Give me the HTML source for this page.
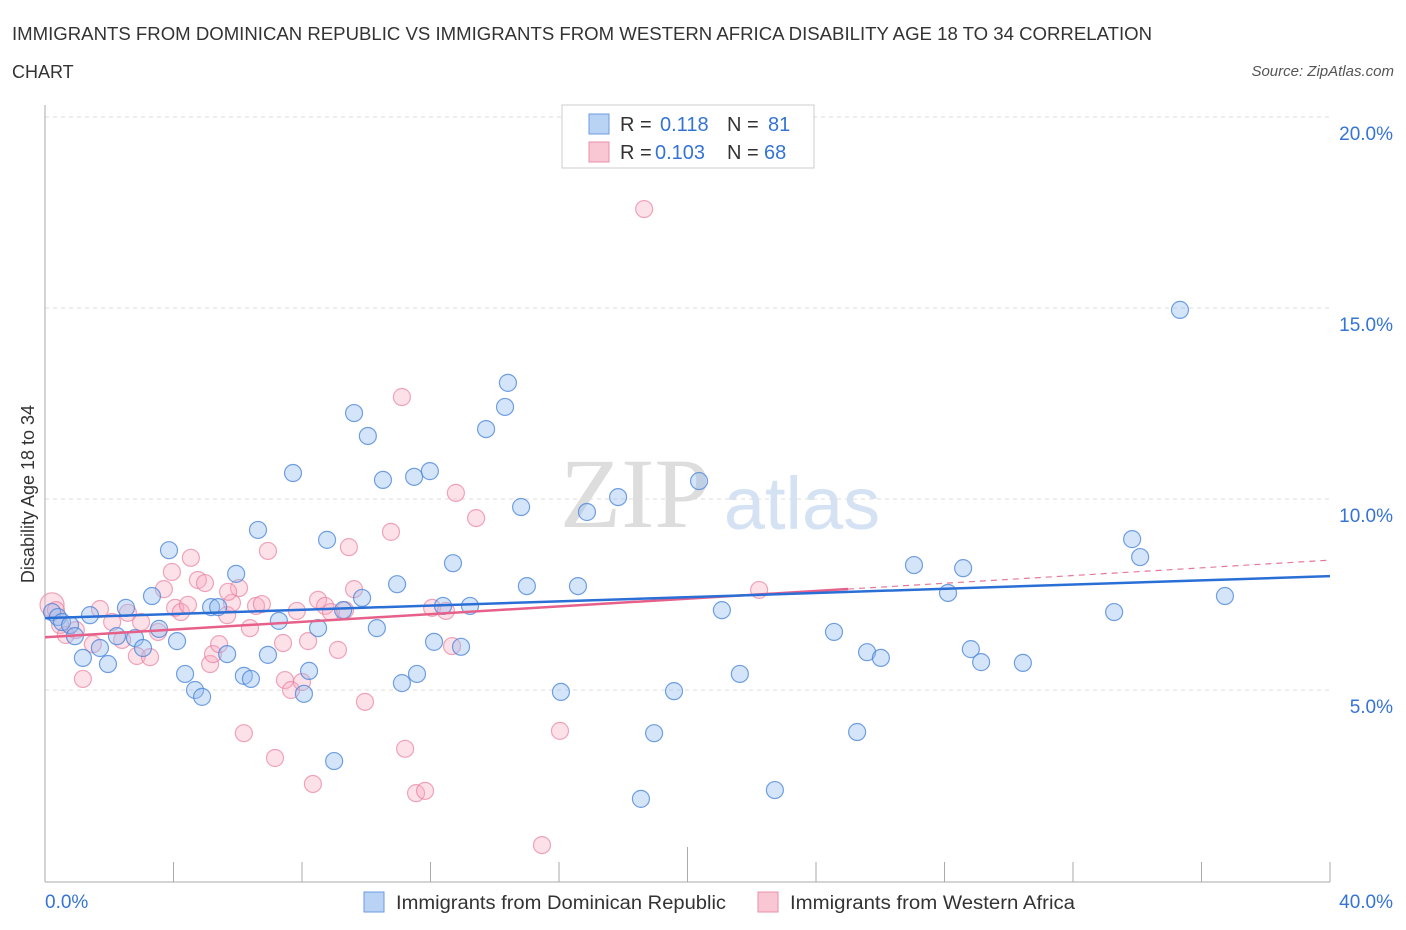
<!DOCTYPE html>
<html><head><meta charset="utf-8"><style>
body{margin:0;background:#fff;font-family:"Liberation Sans",sans-serif}
svg{display:block}
</style></head><body>
<svg id="chart" width="1406" height="930" xmlns="http://www.w3.org/2000/svg">
<text x="12" y="40" font-size="18" fill="#333" textLength="1140" lengthAdjust="spacingAndGlyphs">IMMIGRANTS FROM DOMINICAN REPUBLIC VS IMMIGRANTS FROM WESTERN AFRICA DISABILITY AGE 18 TO 34 CORRELATION</text>
<text x="12" y="78" font-size="18" fill="#333">CHART</text>
<text x="1394" y="76" font-size="15" fill="#555" font-style="italic" text-anchor="end">Source: ZipAtlas.com</text>
<g>
<text x="635" y="527" font-size="100" font-family="Liberation Serif,serif" fill="#ddd" text-anchor="middle">ZIP</text>
<text x="802" y="529" font-size="74" fill="#d4e2f3" text-anchor="middle">atlas</text>
</g>
<g id="grid"></g>
<g id="axes"></g>
<g id="marks"></g>
<text transform="translate(34,494) rotate(-90)" font-size="18" fill="#333" text-anchor="middle">Disability Age 18 to 34</text>
<g>
<rect x="562" y="105" width="252" height="63" fill="#fff" stroke="#ccc"/>
<rect x="589" y="114" width="20" height="20" fill="#b9d3f5" stroke="#6d9be0"/>
<text x="620" y="131" font-size="20" fill="#333">R = </text><text x="660" y="131" font-size="20" fill="#3574d4">0.118</text>
<text x="727" y="131" font-size="20" fill="#333">N = </text><text x="768" y="131" font-size="20" fill="#3574d4">81</text>
<rect x="589" y="142" width="20" height="20" fill="#f9c6d4" stroke="#e890aa"/>
<text x="620" y="159" font-size="20" fill="#333">R = </text><text x="655" y="159" font-size="20" fill="#3574d4">0.103</text>
<text x="727" y="159" font-size="20" fill="#333">N = </text><text x="764" y="159" font-size="20" fill="#3574d4">68</text>
</g>
<g>
<rect x="364" y="892" width="20" height="20" fill="#b9d3f5" stroke="#6d9be0"/>
<text x="396" y="909" font-size="19" fill="#333" textLength="330" lengthAdjust="spacingAndGlyphs">Immigrants from Dominican Republic</text>
<rect x="758" y="892" width="20" height="20" fill="#f9c6d4" stroke="#e890aa"/>
<text x="790" y="909" font-size="19" fill="#333" textLength="285" lengthAdjust="spacingAndGlyphs">Immigrants from Western Africa</text>
</g>
</svg>
<script>
const blueX=[0.22,0.40,0.53,0.78,0.93,1.18,1.40,1.71,1.96,2.24,2.52,2.80,3.05,3.33,3.55,3.86,4.11,4.36,4.67,4.89,5.17,5.39,5.67,5.95,6.19,6.41,6.63,6.94,7.28,7.72,8.22,8.06,8.50,8.78,9.28,9.62,9.87,10.05,10.33,10.52,10.96,11.11,11.49,11.58,11.98,12.11,12.39,12.70,12.95,13.23,13.73,14.32,14.41,14.82,15.00,16.06,16.59,16.87,17.84,18.55,18.96,19.58,20.36,21.07,21.63,22.72,24.56,25.28,25.59,26.02,27.05,28.11,28.58,28.82,29.14,30.44,33.28,33.84,34.09,35.33,36.73,9.00];
const blueY=[7.04,6.91,6.78,6.70,6.41,5.84,6.96,6.10,5.68,6.41,7.15,6.36,6.10,7.46,6.60,8.66,6.28,5.42,5.00,4.82,7.17,7.17,5.94,8.04,5.37,5.29,9.19,5.92,6.81,10.68,5.50,4.90,6.62,8.93,7.09,12.25,7.41,11.65,6.62,10.50,7.77,5.18,10.58,5.42,10.73,6.26,7.20,8.32,6.13,7.20,11.83,12.41,13.04,9.79,7.72,4.95,7.72,9.66,10.05,2.15,3.87,4.97,10.47,7.09,5.42,2.38,6.52,3.90,5.99,5.84,8.27,7.54,8.19,6.07,5.73,5.71,7.04,8.95,8.48,14.95,7.46,3.14];
const pinkX=[0.22,0.34,0.47,0.65,0.96,1.18,1.49,1.71,2.09,2.40,2.58,2.86,2.99,3.27,3.52,3.70,3.95,4.05,4.23,4.45,4.54,4.76,4.98,5.14,5.23,5.42,5.67,5.82,6.04,6.19,6.38,6.57,6.75,6.94,7.16,7.41,7.47,7.66,7.84,8.00,8.19,8.34,8.50,8.72,8.90,9.12,9.34,9.46,9.62,9.96,10.77,11.11,11.21,11.55,11.83,12.05,12.48,12.67,12.79,13.42,16.03,15.47,18.65,22.23,5.70];
const pinkY=[7.23,7.09,6.70,6.44,6.57,5.29,6.20,7.12,6.78,6.31,7.02,5.89,6.78,5.86,6.52,7.64,8.09,7.15,7.04,7.23,8.46,7.88,7.80,5.68,5.94,6.20,6.96,7.28,7.67,3.87,6.62,7.20,7.25,8.64,3.22,6.23,5.26,5.00,7.07,5.21,6.28,2.54,7.36,7.20,7.04,6.05,7.09,8.74,7.64,4.69,9.14,12.67,3.46,2.30,2.36,7.15,7.07,6.15,10.16,9.50,3.93,0.94,17.59,7.62,7.57];
const blueTrend=[6.88,7.98];
const pinkTrend=[6.38,8.40];
const pinkSolidEnd=25;
const yTicks=[5,10,15,20];
const yTickLabels=["5.0%","10.0%","15.0%","20.0%"];
const xTicks=[0,4,8,12,16,20,24,28,32,36,40];

const NS="http://www.w3.org/2000/svg";
const X0=45,X1=1330,Y0=881,YS=38.2;
function sx(v){return X0+(v/40)*(X1-X0);}
function sy(v){return Y0-v*YS;}
function mk(tag,attrs,parent){const e=document.createElementNS(NS,tag);for(const k in attrs)e.setAttribute(k,attrs[k]);parent.appendChild(e);return e;}
const grid=document.getElementById('grid'),axes=document.getElementById('axes'),marks=document.getElementById('marks');
yTicks.forEach((t,i)=>{
  const l=mk('line',{x1:X0,x2:X1,y1:sy(t),y2:sy(t),stroke:'#ddd','stroke-dasharray':'4,4'},grid);
  
  
  const tx=mk('text',{x:1393,y:sy(t)+23,'font-size':19,fill:'#3574d4','text-anchor':'end'},axes);
  tx.textContent=yTickLabels[i];
  
  
});
const ya=mk('line',{x1:X0,x2:X0,y1:105,y2:882,stroke:'#aaa'},axes);


const xa=mk('line',{x1:X0,x2:X1,y1:882,y2:882,stroke:'#aaa'},axes);


xTicks.forEach(t=>{
  const tk=mk('line',{x1:sx(t),x2:sx(t),y1:882,y2:t===20?847:862,stroke:'#aaa'},axes);
  
  
});
const xl0=mk('text',{x:45,y:908,'font-size':19,fill:'#3574d4'},axes);xl0.textContent='0.0%';


const xl1=mk('text',{x:1393,y:908,'font-size':19,fill:'#3574d4','text-anchor':'end'},axes);xl1.textContent='40.0%';



pinkX.forEach((x,i)=>{
  const c=mk('circle',{cx:sx(x),cy:sy(pinkY[i]),r:i===0?12:8.5,fill:'rgba(248,170,192,0.35)',stroke:'rgba(232,130,160,0.7)','stroke-width':1.2},marks);
  
  
});
blueX.forEach((x,i)=>{
  const c=mk('circle',{cx:sx(x),cy:sy(blueY[i]),r:8.5,fill:'rgba(150,190,240,0.4)',stroke:'rgba(70,130,215,0.75)','stroke-width':1.2},marks);
  
  
});
function py(v){return pinkTrend[0]+(pinkTrend[1]-pinkTrend[0])*v/40;}
const pd=mk('line',{x1:sx(pinkSolidEnd),y1:sy(py(pinkSolidEnd)),x2:sx(40),y2:sy(py(40)),stroke:'#e6799b','stroke-width':1.2,'stroke-dasharray':'6,5'},marks);


const ps=mk('line',{x1:sx(0),y1:sy(py(0)),x2:sx(pinkSolidEnd),y2:sy(py(pinkSolidEnd)),stroke:'#e6608a','stroke-width':2.5},marks);


const bl=mk('line',{x1:sx(0),y1:sy(blueTrend[0]),x2:sx(40),y2:sy(blueTrend[1]),stroke:'#2a6fd6','stroke-width':2.5},marks);


</script>
</body></html>
